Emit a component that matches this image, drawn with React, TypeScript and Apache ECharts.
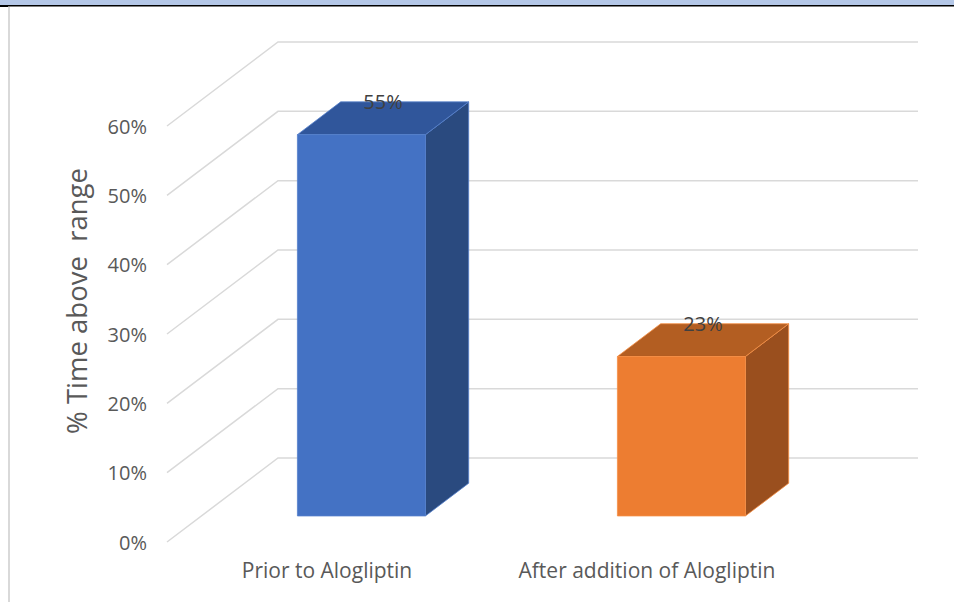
import React, { useEffect, useRef } from "react";
import * as echarts from "echarts";

const categories = ["Prior to Alogliptin", "After addition of Alogliptin"];
const values = [0.55, 0.23];
const dataLabels = ["55%", "23%"];
const yTicks = [0, 0.1, 0.2, 0.3, 0.4, 0.5, 0.6];
const yAxisTitle = "% Time above  range";

// perspective depth vector (front plane -> back wall), pixels
const DX = 111;
const DY = -84;
// bar depth span (fractions of full depth)
const Z0 = 0.31;
const Z1 = 0.7;
const BAR_FRAC = 0.4;

const faceColors = [
  { front: "#4472C4", top: "#30569B", side: "#2A4A7F", edge: "#5580CC" },
  { front: "#ED7D31", top: "#B35E22", side: "#9A4F1E", edge: "#F58F45" },
];

const FONT = '"Open Sans", "Noto Sans", sans-serif';

export default function App() {
  const ref = useRef<HTMLDivElement>(null);

  useEffect(() => {
    if (!ref.current) return;
    const chart = echarts.init(ref.current, undefined, { renderer: "svg" });

    const option: any = {
      animation: false,
      backgroundColor: "#ffffff",
      grid: { left: 167, right: 147, top: 126, bottom: 60, containLabel: false },
      xAxis: {
        type: "category",
        data: categories,
        axisLine: { show: false },
        axisTick: { show: false },
        splitLine: { show: false },
        axisLabel: {
          color: "#595959",
          fontSize: 21,
          fontFamily: FONT,
          margin: 17,
          interval: 0,
          hideOverlap: false,
        },
      },
      yAxis: {
        type: "value",
        min: 0,
        max: 0.6,
        interval: 0.1,
        axisLine: { show: false },
        axisTick: { show: false },
        splitLine: { show: false },
        axisLabel: {
          color: "#595959",
          fontSize: 20,
          fontFamily: FONT,
          margin: 20,
          formatter: (v: number) => Math.round(v * 100) + "%",
        },
      },
      graphic: [
        { type: "rect", shape: { x: 0, y: 0, width: 954, height: 5 }, style: { fill: "#B4C7E7" }, silent: true },
        { type: "rect", shape: { x: 0, y: 5, width: 954, height: 1.5 }, style: { fill: "#000000" }, silent: true },
        { type: "rect", shape: { x: 0, y: 5, width: 8, height: 2 }, style: { fill: "#000000" }, silent: true },
        { type: "rect", shape: { x: 8, y: 7, width: 2, height: 595 }, style: { fill: "#D9D9D9" }, silent: true },
        {
          type: "text",
          x: 76,
          y: 301,
          rotation: Math.PI / 2,
          style: {
            text: yAxisTitle,
            fontSize: 27.5,
            fontFamily: FONT,
            fill: "#595959",
            align: "center",
            verticalAlign: "middle",
          },
          silent: true,
        },
      ],
      series: [
        {
          type: "custom",
          coordinateSystem: "cartesian2d",
          silent: true,
          z: 1,
          data: yTicks.map((v) => [0, v]),
          renderItem: (params: any, api: any) => {
            const cs = params.coordSys;
            const y = api.coord([0, api.value(1)])[1];
            const x0 = cs.x;
            return {
              type: "polyline",
              shape: {
                points: [
                  [x0, y],
                  [x0 + DX, y + DY],
                  [x0 + cs.width + DX, y + DY],
                ],
              },
              style: { stroke: "#D9D9D9", lineWidth: 1.5, fill: null },
            };
          },
        },
        {
          type: "custom",
          coordinateSystem: "cartesian2d",
          silent: true,
          z: 2,
          data: values.map((v, i) => [i, v]),
          renderItem: (params: any, api: any) => {
            const i = api.value(0);
            const v = api.value(1);
            const base = api.coord([i, 0]);
            const topP = api.coord([i, v]);
            const bandW = api.size([1, 0])[0];
            const bw = bandW * BAR_FRAC;
            const xl = base[0] - bw / 2;
            const xr = base[0] + bw / 2;
            const yb = base[1];
            const yt = topP[1];
            const f = (x: number, y: number, z: number) => [x + DX * z, y + DY * z];
            const c = faceColors[params.dataIndex % faceColors.length];
            const zm = (Z0 + Z1) / 2;
            return {
              type: "group",
              children: [
                {
                  type: "polygon",
                  shape: { points: [f(xr, yt, Z0), f(xr, yt, Z1), f(xr, yb, Z1), f(xr, yb, Z0)] },
                  style: { fill: c.side, stroke: c.edge, lineWidth: 0.8 },
                },
                {
                  type: "polygon",
                  shape: { points: [f(xl, yt, Z0), f(xl, yt, Z1), f(xr, yt, Z1), f(xr, yt, Z0)] },
                  style: { fill: c.top, stroke: c.edge, lineWidth: 0.8 },
                },
                {
                  type: "polygon",
                  shape: { points: [f(xl, yt, Z0), f(xr, yt, Z0), f(xr, yb, Z0), f(xl, yb, Z0)] },
                  style: { fill: c.front, stroke: c.edge, lineWidth: 0.8 },
                },
                {
                  type: "text",
                  style: {
                    text: dataLabels[params.dataIndex],
                    x: base[0] + DX * zm,
                    y: yt + DY * zm - 16.5,
                    fontSize: 20,
                    fontFamily: FONT,
                    fill: "#404040",
                    align: "center",
                    verticalAlign: "middle",
                  },
                },
              ],
            };
          },
        },
      ],
    };

    chart.setOption(option);
    return () => chart.dispose();
  }, []);

  return (
    <div
      ref={ref}
      style={{ position: "absolute", left: 0, top: 0, width: 954, height: 602, background: "#fff" }}
    />
  );
}
